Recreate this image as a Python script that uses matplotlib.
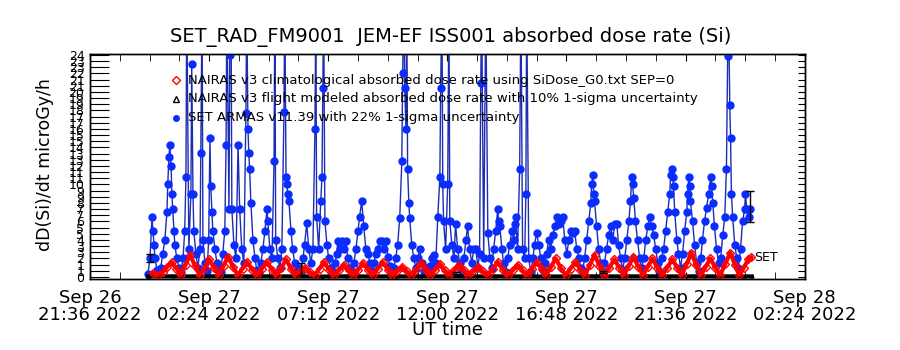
import numpy as np
import pandas as pd
import matplotlib
matplotlib.use("Agg")
import matplotlib.pyplot as plt
import matplotlib.dates as mdates

# times are minutes after 2022-09-27 00:00 UT
set_min = [-4, 1, 6, 8, 11, 13, 18, 23, 27, 32, 37, 42, 44, 47, 49, 52, 54, 56, 59, 61,
           66, 71, 76, 81, 85, 88, 90, 95, 100, 102, 105, 107, 112, 117, 122, 124, 127, 129, 134, 139,
           143, 146, 148, 151, 153, 158, 163, 168, 172, 177, 182, 185, 187, 192, 194, 197, 199, 204, 209, 214,
           218, 223, 228, 233, 235, 238, 240, 242, 245, 250, 255, 259, 264, 269, 274, 279, 284, 286, 291, 296,
           301, 303, 305, 310, 315, 320, 325, 327, 330, 332, 334, 337, 342, 346, 351, 356, 361, 366, 371, 375,
           380, 385, 390, 395, 400, 402, 404, 409, 414, 417, 419, 421, 424, 429, 433, 438, 443, 448, 453, 455,
           460, 465, 470, 475, 479, 484, 489, 494, 499, 504, 508, 513, 518, 523, 528, 533, 537, 542, 547, 552,
           557, 562, 566, 571, 576, 581, 586, 591, 595, 600, 605, 610, 612, 615, 617, 620, 622, 624, 627, 629,
           634, 639, 644, 649, 653, 658, 663, 668, 673, 678, 682, 687, 692, 697, 702, 704, 707, 709, 711, 716,
           721, 724, 726, 731, 736, 740, 745, 750, 755, 760, 765, 769, 774, 779, 784, 789, 794, 798, 801, 803,
           808, 813, 818, 823, 827, 832, 837, 842, 844, 847, 852, 856, 861, 866, 871, 876, 881, 883, 885, 890,
           895, 898, 902, 907, 910, 912, 917, 922, 927, 931, 936, 941, 946, 951, 956, 960, 965, 970, 975, 980,
           985, 989, 994, 999, 1004, 1009, 1014, 1018, 1023, 1028, 1033, 1038, 1043, 1047, 1052, 1057, 1062, 1067, 1069, 1072,
           1074, 1076, 1081, 1086, 1091, 1096, 1100, 1105, 1110, 1115, 1120, 1125, 1130, 1134, 1139, 1144, 1149, 1154, 1159, 1163,
           1166, 1168, 1171, 1175, 1180, 1185, 1190, 1195, 1200, 1205, 1209, 1214, 1219, 1224, 1229, 1233, 1238, 1243, 1248, 1253,
           1258, 1260, 1263, 1265, 1267, 1270, 1275, 1279, 1284, 1289, 1294, 1299, 1301, 1304, 1306, 1308, 1313, 1318, 1323, 1328,
           1333, 1337, 1342, 1347, 1352, 1357, 1359, 1362, 1366, 1371, 1376, 1381, 1386, 1391, 1395, 1398, 1400, 1403, 1405, 1407,
           1410, 1415, 1420, 1424, 1429, 1434, 1439, 1441, 1444, 1449, 1451]
set_dose = [0.3, 2.0, 6.5, 5.0, 3.5, 2.0, 0.8, 0.4, 1.0, 2.5, 4.0, 7.0, 10.0, 13.0, 14.3, 12.0, 9.0, 7.3, 5.0, 3.5,
            2.0, 1.0, 0.5, 2.0, 5.0, 10.8, 30, 3.0, 9.0, 23.0, 9.0, 5.0, 2.5, 1.0, 3.0, 13.4, 30, 4.0, 1.5, 0.6,
            4.0, 15.0, 9.8, 7.0, 5.0, 3.0, 1.5, 0.7, 0.5, 2.5, 5.0, 14.3, 30, 7.3, 24, 30, 7.3, 3.5, 2.0, 14.3,
            7.3, 3.0, 1.5, 17.7, 30, 16, 13.4, 11.7, 8, 4, 2, 0.8, 0.5, 1.5, 3, 5, 7.3, 6, 3, 2,
            12.5, 30, 4, 2, 1, 3, 17.8, 30, 10.8, 10, 9, 8.2, 5, 3, 1.5, 0.6, 1.0, 0.5, 2, 3.5,
            5.8, 3, 1.5, 3, 16, 30, 6.5, 3, 8.2, 10.8, 20.4, 30, 6, 3.5, 2, 1, 0.5, 1.5, 2.5, 3.9,
            3, 3.9, 3, 3.9, 2, 1, 0.5, 1.5, 3, 5, 6.5, 8.2, 5.5, 3, 2.5, 1.5, 0.6, 1.5, 2.5, 3,
            3.9, 3.9, 3, 3.9, 2.2, 1.2, 0.5, 1, 2, 3.5, 6.4, 12.5, 22, 30, 20.4, 16, 30, 11.7, 8, 6.4,
            3.5, 2, 1, 2, 3, 1.5, 0.6, 1, 0.5, 1.2, 2, 2.4, 1.5, 6.5, 10.8, 20.4, 30, 10, 6, 3,
            10, 30, 6, 3.5, 2, 5.7, 3, 1.5, 0.6, 2, 4, 5.5, 3, 1.5, 3, 3, 1, 2.5, 21, 30,
            2, 30, 4.7, 2, 1, 3, 5, 7.3, 6, 5.5, 3, 1.5, 0.5, 2, 3.5, 5, 4, 5.7, 6.5, 3,
            11.7, 30, 3, 2, 9, 30, 2, 0.5, 2, 3.5, 4.7, 3.5, 2, 0.8, 1.5, 2.5, 4, 3, 4.5, 5.5,
            6.5, 5.7, 6.0, 6.5, 4, 2.5, 4, 5, 4.7, 5, 3, 2, 1, 0.6, 2, 4, 6, 8, 10, 11,
            9, 8.2, 5.5, 3, 1.5, 0.5, 1.5, 3, 4.5, 5.5, 4, 5.7, 5.7, 3.5, 2, 0.8, 2, 4, 6, 8.2,
            10.8, 10, 8.5, 6, 4, 2, 1, 2, 4, 5.5, 6.5, 5.5, 4.5, 3, 1.5, 0.6, 2, 3, 5, 7,
            9, 11, 11.7, 10.8, 9.8, 7, 4, 2.5, 1, 2.5, 5, 7, 9, 10.8, 9.8, 8.2, 6, 3.5, 1.5, 0.6,
            2, 4, 6, 7.5, 9, 10.8, 9.8, 8, 5.5, 3, 1.5, 2, 4.5, 6.5, 11.7, 23.9, 30, 18.6, 15, 9,
            6.5, 3.5, 2, 1, 3, 6, 7.3, 9, 7.3, 6.5, 7.3]

clim_min = [8, 20, 32, 43, 54, 65, 76, 87, 98, 110, 121, 133, 144, 156, 167, 179, 190, 202, 213, 225,
            236, 248, 260, 272, 284, 296, 307, 319, 330, 342, 353, 365, 376, 388, 399, 411, 422, 434, 446, 458,
            470, 482, 493, 505, 516, 528, 540, 552, 564, 576, 587, 599, 610, 622, 633, 645, 656, 668, 679, 691,
            702, 714, 725, 737, 748, 760, 771, 783, 794, 806, 818, 830, 842, 854, 866, 878, 890, 902, 913, 925,
            936, 948, 959, 971, 982, 994, 1006, 1018, 1030, 1042, 1053, 1065, 1076, 1088, 1100, 1112, 1124, 1136, 1147, 1159,
            1170, 1182, 1193, 1205, 1216, 1228, 1240, 1252, 1264, 1276, 1287, 1299, 1310, 1322, 1333, 1345, 1356, 1368, 1380, 1392,
            1404, 1416, 1426, 1437, 1448, 1455]
clim_dose = [0.4, 0.2, 0.5, 1.1, 1.6, 0.9, 0.2, 1.3, 2.4, 1.2, 0.2, 1.0, 1.9, 1.0, 0.2, 1.2, 2.2, 1.1, 0.2, 0.9,
             1.6, 0.8, 0.2, 0.9, 1.6, 0.8, 0.2, 1.0, 1.9, 0.9, 0.2, 0.6, 1.0, 0.5, 0.2, 0.9, 1.6, 0.8, 0.2, 0.7,
             1.3, 0.7, 0.2, 0.8, 1.5, 0.8, 0.2, 0.9, 1.6, 0.8, 0.2, 0.6, 1.1, 0.6, 0.2, 0.8, 1.5, 0.8, 0.2, 0.8,
             1.4, 0.7, 0.2, 0.7, 1.3, 0.7, 0.2, 0.6, 1.1, 0.6, 0.2, 0.9, 1.6, 0.8, 0.2, 0.7, 1.3, 0.7, 0.2, 0.9,
             1.6, 0.9, 0.2, 1.1, 2.0, 1.0, 0.2, 0.9, 1.6, 0.8, 0.2, 1.3, 2.4, 1.2, 0.2, 1.0, 1.9, 1.0, 0.2, 1.2,
             2.2, 1.1, 0.2, 1.1, 2.0, 1.0, 0.2, 1.0, 1.9, 1.0, 0.2, 1.4, 2.6, 1.3, 0.2, 1.1, 2.0, 1.0, 0.2, 1.4,
             2.6, 1.3, 0.2, 1.0, 1.9, 2.1]

flt_min = [-4, 56, 116, 176, 236, 296, 356, 416, 476, 536, 596, 656, 716, 776, 836, 896, 956, 1016, 1076, 1136,
           1196, 1256, 1316, 1376, 1436, 1456]
flt_dose = [0.05, 0.06, 0.05, 0.07, 0.05, 0.06, 0.05, 0.04, 0.06, 0.05, 0.05, 0.06, 0.05, 0.05, 0.06, 0.05, 0.04, 0.05, 0.06, 0.05,
            0.06, 0.05, 0.06, 0.05, 0.06, 0.05]

# SET 1-sigma error bars drawn at a few samples
err_min = [1, 366, 740, 1096, 1451]
err_dose = [2.0, 0.9, 0.4, 0.5, 7.6]
err_sig = [0.44, 0.65, 0.1, 0.12, 1.7]

tick_times = ["2022-09-26 21:36", "2022-09-27 02:24", "2022-09-27 07:12", "2022-09-27 12:00",
              "2022-09-27 16:48", "2022-09-27 21:36", "2022-09-28 02:24"]
tick_labels = ["Sep 26\n21:36 2022", "Sep 27\n02:24 2022", "Sep 27\n07:12 2022", "Sep 27\n12:00 2022",
               "Sep 27\n16:48 2022", "Sep 27\n21:36 2022", "Sep 28\n02:24 2022"]

legend_labels = ["NAIRAS v3 climatological absorbed dose rate using SiDose_G0.txt SEP=0",
                 "NAIRAS v3 flight modeled absorbed dose rate with 10% 1-sigma uncertainty",
                 "SET ARMAS v11.39 with 22% 1-sigma uncertainty"]

base = pd.Timestamp("2022-09-27 00:00")


def to_num(mins):
    return mdates.date2num(base + pd.to_timedelta(np.asarray(mins, dtype=float), unit="min"))


fig = plt.figure(figsize=(9, 3.5), dpi=100)
ax = fig.add_axes([0.1, 0.203, 0.794, 0.643])

ax.plot(to_num(set_min), set_dose, color="#1c2db5", lw=1.0, marker="o", ms=5,
        mfc="#0b2cff", mec="#0b2cff", zorder=3)
ax.plot(to_num(flt_min), flt_dose, color="black", lw=3, marker="^", ms=2, zorder=4)
ax.plot(to_num(clim_min), clim_dose, color="#ff0000", lw=3, marker="D", ms=4,
        mfc="none", mec="#ff0000", mew=1.0, zorder=5)
ax.errorbar(to_num(err_min), err_dose, yerr=err_sig, fmt="none", ecolor="black",
            elinewidth=1, capsize=3, zorder=6)
ax.text(to_num([1463])[0], 2.05, "SET", fontsize=9, va="center", ha="left")

xmin, xmax = mdates.date2num(pd.Timestamp(tick_times[0])), mdates.date2num(pd.Timestamp(tick_times[-1]))
ax.set_xlim(xmin, xmax)
ax.set_ylim(-0.22, 24.1)

ax.set_xticks([mdates.date2num(pd.Timestamp(t)) for t in tick_times])
ax.set_xticklabels(tick_labels, fontsize=13, linespacing=0.95)
ax.set_xticks(np.linspace(xmin, xmax, 25), minor=True)
ax.tick_params(axis="x", which="both", direction="in", length=5, top=True, pad=7)

yt = np.linspace(0, 24, 37)
ax.set_yticks(yt)
ax.set_yticklabels([f"{v:.0f}" for v in yt], fontsize=9)
ax.tick_params(axis="y", direction="in", length=14, pad=4)

ax2 = ax.twinx()
ax2.set_ylim(ax.get_ylim())
ax2.set_yticks(yt)
ax2.set_yticklabels([])
ax2.tick_params(axis="y", direction="in", length=5)

for a in (ax, ax2):
    for s in a.spines.values():
        s.set_linewidth(1)

# legend drawn by hand like the IDL plot
rows = [(0.884, "D", "#ff0000", "none"), (0.80, "^", "black", "none"), (0.716, "o", "#0b2cff", "#0b2cff")]
for (yy, mk, c, fc), lab in zip(rows, legend_labels):
    ax.plot([0.120], [yy], transform=ax.transAxes, marker=mk, ms=4, mec=c, mfc=fc,
            ls="none", clip_on=False, zorder=7)
    ax.text(0.137, yy, lab, transform=ax.transAxes, fontsize=9.5, va="center", ha="left", zorder=7)

fig.text(0.501, 0.894, "SET_RAD_FM9001  JEM-EF ISS001 absorbed dose rate (Si)", fontsize=14,
         ha="center", va="center")
fig.text(0.497, 0.057, "UT time", fontsize=13, ha="center", va="center")
fig.text(0.05, 0.53, "dD(Si)/dt microGy/h", fontsize=12.5, rotation=90, ha="center", va="center")

fig.savefig("out.png", dpi=100)
